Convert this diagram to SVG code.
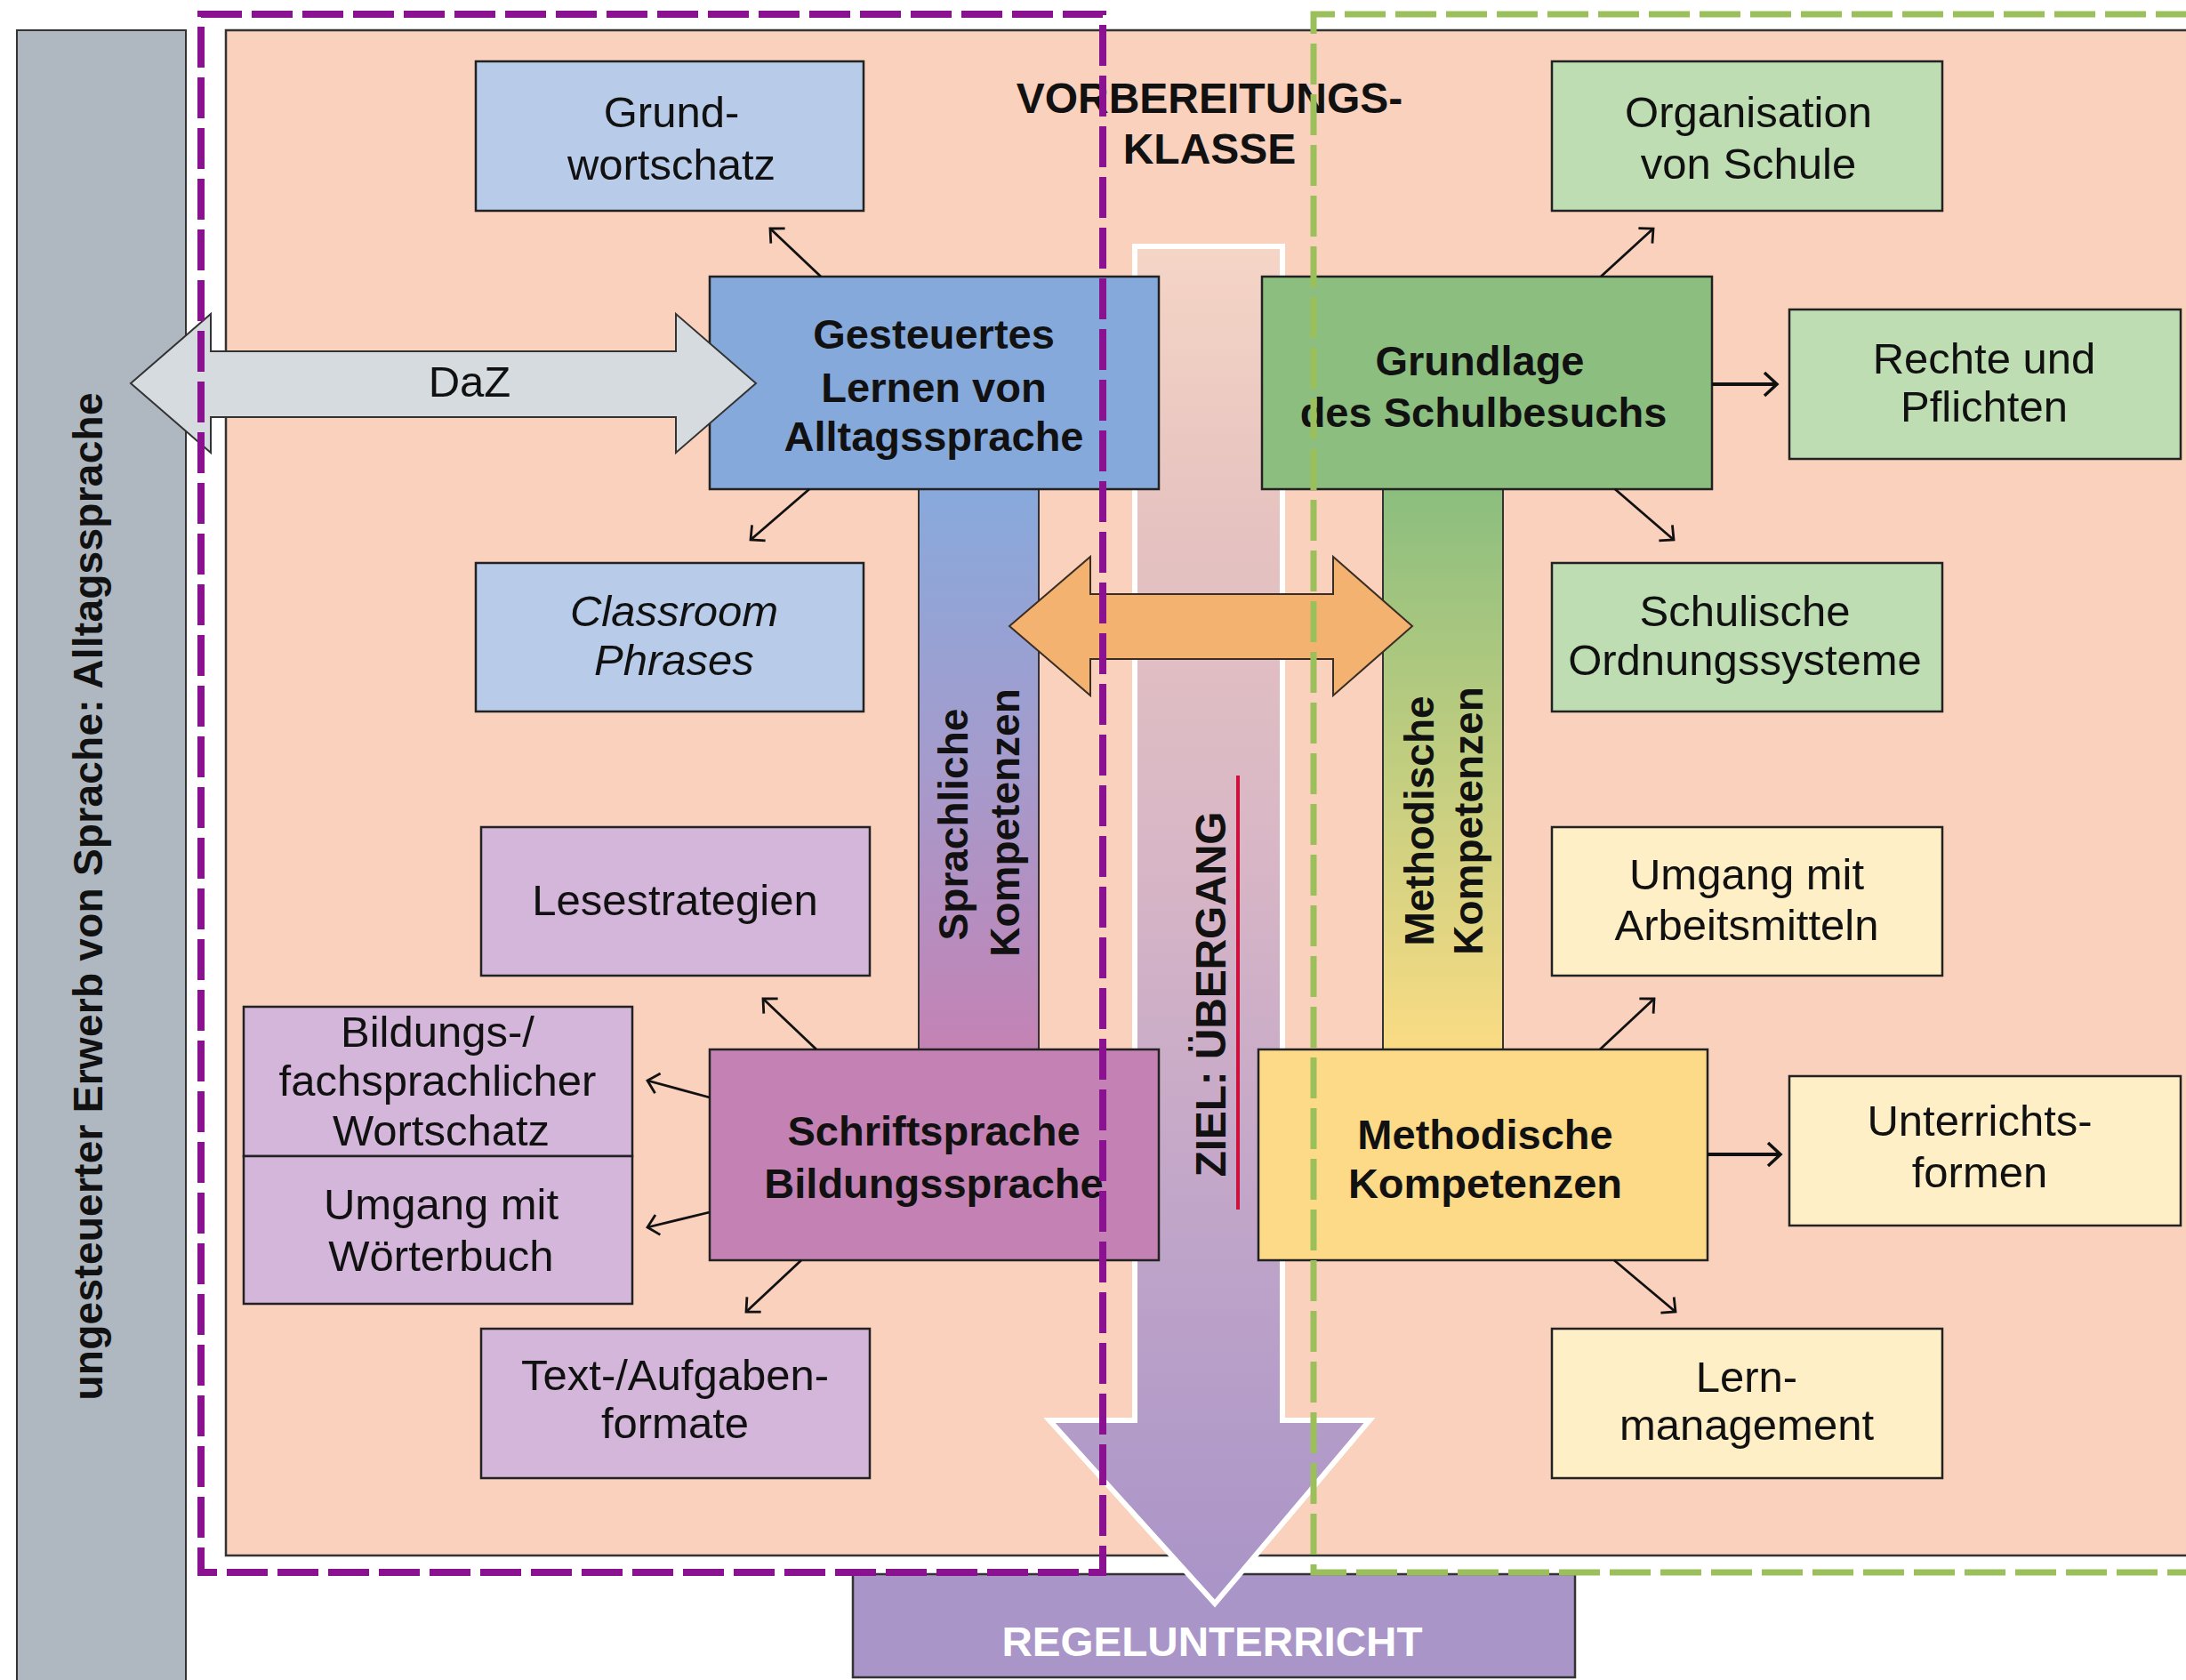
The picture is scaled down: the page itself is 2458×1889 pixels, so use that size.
<svg xmlns="http://www.w3.org/2000/svg" width="2458" height="1889" viewBox="0 0 2458 1889">
<defs>
<style>
.box{stroke:#222;stroke-width:2.5}
.t{font-family:"Liberation Sans",Arial,sans-serif;font-size:49px;fill:#111;text-anchor:middle}
.b{font-weight:bold;font-size:47px}
.i{font-style:italic}
.v{font-family:"Liberation Sans",Arial,sans-serif;font-weight:bold;font-size:46px;fill:#111;text-anchor:middle}
.con{stroke:#111;stroke-width:2.8;fill:none;marker-end:url(#ah)}
.conb{stroke:#111;stroke-width:4;fill:none;marker-end:url(#ahb)}
.blue1{fill:#B8CCEA}.blue2{fill:#86A9DC}
.green1{fill:#BEDDB2}.green2{fill:#8CBE7F}
.lila1{fill:#D3B6DA}.lila2{fill:#C482B4}
.yel1{fill:#FFEFC6}.yel2{fill:#FDDA88}
</style>
<linearGradient id="gSpr" x1="0" y1="0" x2="0" y2="1">
<stop offset="0" stop-color="#88A9DC"/><stop offset="0.5" stop-color="#A59BCC"/><stop offset="1" stop-color="#C482B4"/>
</linearGradient>
<linearGradient id="gMet" x1="0" y1="0" x2="0" y2="1">
<stop offset="0" stop-color="#8BBE7E"/><stop offset="0.5" stop-color="#C2CE80"/><stop offset="1" stop-color="#FADB84"/>
</linearGradient>
<linearGradient id="gZiel" gradientUnits="userSpaceOnUse" x1="0" y1="277" x2="0" y2="1805">
<stop offset="0" stop-color="#F5D5C6"/><stop offset="0.2" stop-color="#E6C3C0"/><stop offset="0.45" stop-color="#D8B6C6"/><stop offset="0.7" stop-color="#C2A6C9"/><stop offset="1" stop-color="#A994C8"/>
</linearGradient>
<marker id="ah" viewBox="0 0 26 26" refX="20" refY="13" markerWidth="26" markerHeight="26" markerUnits="userSpaceOnUse" orient="auto">
<path d="M8,1.5 L20,13 L8,24.5" fill="none" stroke="#111" stroke-width="2.8"/>
</marker>
<marker id="ahb" viewBox="0 0 30 30" refX="23" refY="15" markerWidth="30" markerHeight="30" markerUnits="userSpaceOnUse" orient="auto">
<path d="M9,2 L23,15 L9,28" fill="none" stroke="#111" stroke-width="3.5"/>
</marker>
</defs>
<rect width="2458" height="1889" fill="#fff"/>

<g id="ungesteuerter-erwerb">
<rect x="19" y="34" width="190" height="1870" fill="#AFB8C1" stroke="#333" stroke-width="2"/>
<text class="v" transform="translate(115,1008) rotate(-90)" textLength="1133" lengthAdjust="spacing">ungesteuerter Erwerb von Sprache: Alltagssprache</text>
</g>

<g id="vorbereitungsklasse">
<rect x="254" y="34" width="2230" height="1715" fill="#F9D1BD" stroke="#333" stroke-width="2.5"/>
<text class="t b" x="1360" y="127" style="font-size:48px">VORBEREITUNGS-</text>
<text class="t b" x="1360" y="184" style="font-size:48px">KLASSE</text>
</g>

<g id="regelunterricht">
<rect x="959" y="1770" width="812" height="116" fill="#AA95C8" stroke="#333" stroke-width="2.5"/>
<text class="t b" x="1363" y="1862" style="font-size:46px;fill:#fff" textLength="473" lengthAdjust="spacingAndGlyphs">REGELUNTERRICHT</text>
</g>

<g id="sprachliche-kompetenzen">
<rect x="1033" y="550" width="135" height="630" fill="url(#gSpr)" stroke="#333" stroke-width="2"/>
<text class="v" transform="translate(1088,927) rotate(-90)">Sprachliche</text>
<text class="v" transform="translate(1146,925) rotate(-90)">Kompetenzen</text>
</g>

<g id="methodische-kompetenzen-bar">
<rect x="1555" y="550" width="135" height="630" fill="url(#gMet)" stroke="#333" stroke-width="2"/>
<text class="v" transform="translate(1612,923) rotate(-90)">Methodische</text>
<text class="v" transform="translate(1667,923) rotate(-90)">Kompetenzen</text>
</g>

<g id="ziel-uebergang">
<path d="M1276,277 H1442 V1597 H1540 L1366,1803 L1180,1597 H1276 Z" fill="url(#gZiel)" stroke="#fff" stroke-width="6"/>
</g>

<g id="grundwortschatz">
<rect class="box blue1" x="535" y="69" width="436" height="168"/>
<text class="t" x="755" y="143">Grund-</text>
<text class="t" x="755" y="202">wortschatz</text>
</g>

<g id="gesteuertes-lernen">
<rect class="box blue2" x="798" y="311" width="505" height="239"/>
<text class="t b" x="1050" y="392">Gesteuertes</text>
<text class="t b" x="1050" y="452">Lernen von</text>
<text class="t b" x="1050" y="507">Alltagssprache</text>
</g>

<g id="classroom-phrases">
<rect class="box blue1" x="535" y="633" width="436" height="167"/>
<text class="t i" x="758" y="704">Classroom</text>
<text class="t i" x="758" y="759">Phrases</text>
</g>

<g id="grundlage">
<rect class="box green2" x="1419" y="311" width="506" height="239"/>
<text class="t b" x="1664" y="422">Grundlage</text>
<text class="t b" x="1668" y="480">des Schulbesuchs</text>
</g>

<g id="organisation">
<rect class="box green1" x="1745" y="69" width="439" height="168"/>
<text class="t" x="1966" y="143">Organisation</text>
<text class="t" x="1966" y="201">von Schule</text>
</g>

<g id="rechte-pflichten">
<rect class="box green1" x="2012" y="348" width="440" height="168"/>
<text class="t" x="2231" y="420">Rechte und</text>
<text class="t" x="2231" y="474">Pflichten</text>
</g>

<g id="schulische-ordnungssysteme">
<rect class="box green1" x="1745" y="633" width="439" height="167"/>
<text class="t" x="1962" y="704">Schulische</text>
<text class="t" x="1962" y="759">Ordnungssysteme</text>
</g>

<g id="lesestrategien">
<rect class="box lila1" x="541" y="930" width="437" height="167"/>
<text class="t" x="759" y="1029">Lesestrategien</text>
</g>

<g id="bildungs-fachsprachlicher-wortschatz">
<rect class="box lila1" x="274" y="1132" width="437" height="168"/>
<text class="t" x="492" y="1177">Bildungs-/</text>
<text class="t" x="492" y="1232">fachsprachlicher</text>
<text class="t" x="496" y="1288">Wortschatz</text>
</g>

<g id="umgang-woerterbuch">
<rect class="box lila1" x="274" y="1300" width="437" height="166"/>
<text class="t" x="496" y="1371">Umgang mit</text>
<text class="t" x="496" y="1429">Wörterbuch</text>
</g>

<g id="schriftsprache">
<rect class="box lila2" x="798" y="1180" width="505" height="237"/>
<text class="t b" x="1050" y="1288">Schriftsprache</text>
<text class="t b" x="1050" y="1347">Bildungssprache</text>
</g>

<g id="text-aufgabenformate">
<rect class="box lila1" x="541" y="1494" width="437" height="168"/>
<text class="t" x="759" y="1563">Text-/Aufgaben-</text>
<text class="t" x="759" y="1617">formate</text>
</g>

<g id="umgang-arbeitsmitteln">
<rect class="box yel1" x="1745" y="930" width="439" height="167"/>
<text class="t" x="1964" y="1000">Umgang mit</text>
<text class="t" x="1964" y="1057">Arbeitsmitteln</text>
</g>

<g id="methodische-kompetenzen">
<rect class="box yel2" x="1415" y="1180" width="505" height="237"/>
<text class="t b" x="1670" y="1292">Methodische</text>
<text class="t b" x="1670" y="1347">Kompetenzen</text>
</g>

<g id="unterrichtsformen">
<rect class="box yel1" x="2012" y="1210" width="440" height="168"/>
<text class="t" x="2226" y="1277">Unterrichts-</text>
<text class="t" x="2226" y="1335">formen</text>
</g>

<g id="lernmanagement">
<rect class="box yel1" x="1745" y="1494" width="439" height="168"/>
<text class="t" x="1964" y="1565">Lern-</text>
<text class="t" x="1964" y="1619">management</text>
</g>

<g id="daz">
<path d="M147,431 L237,353 L237,395 L760,395 L760,353 L850,431 L760,509 L760,469 L237,469 L237,509 Z" fill="#D6DBDF" stroke="#333" stroke-width="2"/>
<text class="t" x="528" y="446">DaZ</text>
</g>

<g id="austausch">
<path d="M1135,704 L1226,626 L1226,668 L1499,668 L1499,626 L1588,704 L1499,782 L1499,741 L1226,741 L1226,782 Z" fill="#F4B271" stroke="#3a2e24" stroke-width="2"/>
</g>

<g id="connectors">
<line class="con" x1="923" y1="311" x2="866" y2="257"/>
<line class="con" x1="910" y1="550" x2="844" y2="607"/>
<line class="con" x1="1800" y1="311" x2="1859" y2="257"/>
<line class="conb" x1="1925" y1="432" x2="1998" y2="432"/>
<line class="con" x1="1816" y1="550" x2="1882" y2="607"/>
<line class="con" x1="918" y1="1180" x2="858" y2="1123"/>
<line class="con" x1="798" y1="1234" x2="728" y2="1215"/>
<line class="con" x1="798" y1="1363" x2="728" y2="1380"/>
<line class="con" x1="901" y1="1417" x2="839" y2="1475"/>
<line class="con" x1="1799" y1="1180" x2="1860" y2="1123"/>
<line class="conb" x1="1920" y1="1298" x2="2002" y2="1298"/>
<line class="con" x1="1815" y1="1417" x2="1884" y2="1475"/>
</g>

<g id="ziel-label">
<text class="v" transform="translate(1378,1118) rotate(-90)" style="font-size:48px" textLength="411" lengthAdjust="spacing">ZIEL: ÜBERGANG</text>
<line x1="1392" y1="872" x2="1392" y2="1360" stroke="#D0103C" stroke-width="4"/>
</g>

<g id="frames" fill="none">
<rect x="226" y="16" width="1014" height="1752" stroke="#8A1190" stroke-width="8" stroke-dasharray="46 11"/>
<path d="M2470,16 H1477 V1768 H2470" stroke="#9BBF5A" stroke-width="7" stroke-dasharray="46 11"/>
</g>
</svg>
